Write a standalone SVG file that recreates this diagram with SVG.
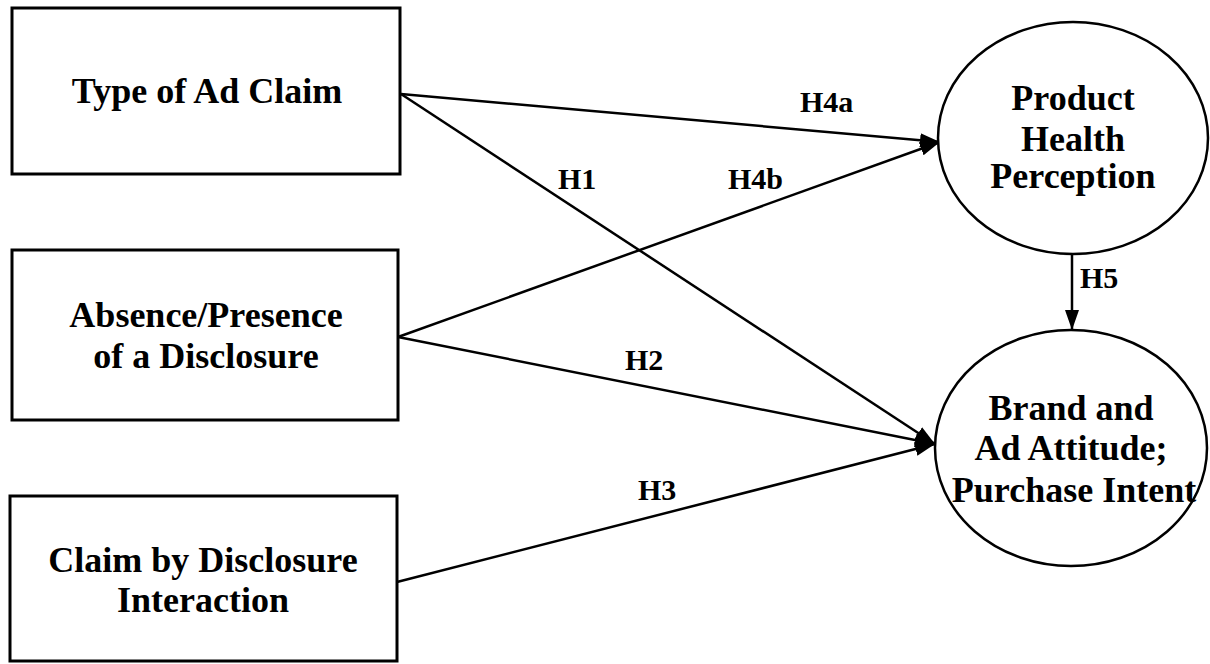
<svg xmlns="http://www.w3.org/2000/svg" width="1210" height="664" viewBox="0 0 1210 664">
<style>
.box{fill:#fff;stroke:#000;stroke-width:3}
.ell{fill:#fff;stroke:#000;stroke-width:2.5}
.t{font-family:"Liberation Serif","Times New Roman",serif;font-weight:bold;font-size:36px;fill:#000;text-anchor:middle}
.lbl{font-family:"Liberation Serif","Times New Roman",serif;font-weight:bold;font-size:30px;fill:#000}
.c{stroke:#000;stroke-width:2.5;fill:none;marker-end:url(#ah)}
</style>
<defs>
<marker id="ah" markerUnits="userSpaceOnUse" markerWidth="22" markerHeight="16" refX="20" refY="7" orient="auto">
<path d="M0,0 L20,7 L0,14 z" fill="#000"/>
</marker>
</defs>
<rect width="1210" height="664" fill="#fff"/>
<g id="connectors">
<line class="c" x1="401" y1="94" x2="940" y2="142"/>
<line class="c" x1="398" y1="337" x2="940" y2="142"/>
<line class="c" x1="401" y1="94" x2="935" y2="444"/>
<line class="c" x1="398" y1="337" x2="935" y2="444"/>
<line class="c" x1="397" y1="582" x2="935" y2="444"/>
<line class="c" x1="1072" y1="255" x2="1072" y2="330"/>
<text class="lbl" x="800" y="112">H4a</text>
<text class="lbl" x="558" y="189">H1</text>
<text class="lbl" x="728" y="189">H4b</text>
<text class="lbl" x="625" y="370">H2</text>
<text class="lbl" x="638" y="500">H3</text>
<text class="lbl" x="1080" y="288">H5</text>
</g>
<g id="type-of-ad-claim">
<rect class="box" x="12" y="8" width="388" height="166"/>
<text class="t" x="207" y="103">Type of Ad Claim</text>
</g>
<g id="absence-presence">
<rect class="box" x="12" y="250" width="386" height="170"/>
<text class="t" x="206" y="327">Absence/Presence</text>
<text class="t" x="206" y="368">of a Disclosure</text>
</g>
<g id="claim-by-disclosure">
<rect class="box" x="10" y="496" width="387" height="165"/>
<text class="t" x="203" y="572">Claim by Disclosure</text>
<text class="t" x="203" y="612">Interaction</text>
</g>
<g id="product-health">
<ellipse class="ell" cx="1073" cy="138" rx="135" ry="116"/>
<text class="t" x="1073" y="110">Product</text>
<text class="t" x="1073" y="151">Health</text>
<text class="t" x="1073" y="188">Perception</text>
</g>
<g id="brand-ad-attitude">
<ellipse class="ell" cx="1071" cy="448" rx="136" ry="118"/>
<text class="t" x="1071" y="420">Brand and</text>
<text class="t" x="1071" y="460">Ad Attitude;</text>
<text class="t" x="1074" y="502">Purchase Intent</text>
</g>
</svg>
